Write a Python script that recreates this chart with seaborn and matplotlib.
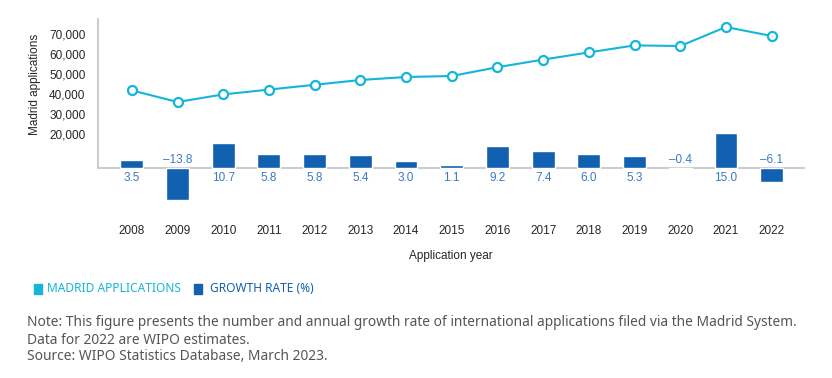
import matplotlib
matplotlib.use("Agg")
import matplotlib.pyplot as plt
import seaborn as sns
import pandas as pd

years = [str(y) for y in range(2008, 2023)]
applications = [41800, 36000, 39800, 42200, 44600, 47000, 48500, 49000,
                53400, 57200, 60800, 64300, 64000, 73500, 69000]
growth = [3.5, -13.8, 10.7, 5.8, 5.8, 5.4, 3.0, 1.1, 9.2, 7.4, 6.0, 5.3,
          -0.4, 15.0, -6.1]
ytick_vals = [20000, 30000, 40000, 50000, 60000, 70000]

line_col = "#14b5d9"
bar_col = "#1261b0"
lab_col = "#3b78c8"

df = pd.DataFrame({"year": years, "apps": applications, "growth": growth})

sns.set_style("white")
plt.rcParams["font.family"] = ["Liberation Sans", "DejaVu Sans"]

fig = plt.figure(figsize=(8.32, 3.78), dpi=100)
ax = fig.add_axes([98 / 832, 1 - 215 / 378, (805 - 98) / 832, (215 - 19) / 378])

# line: Madrid applications
sns.lineplot(data=df, x="year", y="apps", ax=ax, color=line_col, lw=1.5,
             marker="o", markersize=6.5, markerfacecolor="white",
             markeredgecolor=line_col, markeredgewidth=1.6, sort=False)
ax.set_ylim(-20500, 77500)
ax.set_yticks(ytick_vals)
ax.set_yticklabels([f"{v:,}" for v in ytick_vals], fontsize=8.5)
ax.tick_params(axis="y", length=0, pad=9)
ax.tick_params(axis="x", length=0, pad=7, labelsize=8.5)
ax.set_xlim(-0.74, 14.73)
ax.set_ylabel("")
ax.set_xlabel("")
for s in ["top", "right", "bottom"]:
    ax.spines[s].set_visible(False)
ax.spines["left"].set_bounds(3000, 77500)
ax.spines["left"].set_color("#cccccc")
ax.spines["left"].set_linewidth(1.5)

# bars: growth rate on twin axis
axb = ax.twinx()
sns.barplot(data=df, x="year", y="growth", ax=axb, color=bar_col,
            width=0.5, saturation=1)
axb.set_ylim(-20.2, 63.9)
axb.set_xlim(-0.74, 14.73)
axb.set_yticks([])
axb.set_ylabel("")
axb.set_xlabel("")
for s in axb.spines.values():
    s.set_visible(False)
axb.axhline(0, color="#cccccc", lw=1.5, zorder=0)

for i, g in enumerate(growth):
    txt = f"{g:.1f}" if g >= 0 else "\u2013" + f"{abs(g):.1f}"
    if g >= 0:
        axb.annotate(txt, (i, 0), xytext=(0, -7), textcoords="offset points",
                     ha="center", va="center", fontsize=8.5, color=lab_col)
    else:
        axb.annotate(txt, (i, 0), xytext=(0, 6), textcoords="offset points",
                     ha="center", va="center", fontsize=8.5, color=lab_col)

fig.text(35 / 832, 1 - 84 / 378, "Madrid applications", rotation=90,
         ha="center", va="center", fontsize=8.5)
fig.text(451 / 832, 1 - 256 / 378, "Application year", ha="center",
         va="center", fontsize=8.5)

# legend
nf = ["Noto Sans", "DejaVu Sans"]
fig.patches.append(plt.Rectangle((34 / 832, 1 - 294 / 378), 8 / 832, 10 / 378,
                                 transform=fig.transFigure, color=line_col))
fig.text(47 / 832, 1 - 289 / 378, "MADRID APPLICATIONS", va="center",
         fontsize=8.6, color=line_col, family=nf)
fig.patches.append(plt.Rectangle((194 / 832, 1 - 294 / 378), 8 / 832, 10 / 378,
                                 transform=fig.transFigure, color=bar_col))
fig.text(210 / 832, 1 - 289 / 378, "GROWTH RATE (%)", va="center",
         fontsize=8.6, color=bar_col, family=nf)

note_col = "#555555"
fig.text(27 / 832, 1 - 322 / 378,
         "Note: This figure presents the number and annual growth rate of "
         "international applications filed via the Madrid System.",
         va="center", fontsize=9.9, color=note_col, family=nf)
fig.text(27 / 832, 1 - 340 / 378, "Data for 2022 are WIPO estimates.",
         va="center", fontsize=9.9, color=note_col, family=nf)
fig.text(27 / 832, 1 - 357 / 378, "Source: WIPO Statistics Database, March 2023.",
         va="center", fontsize=9.9, color=note_col, family=nf)

fig.savefig("out.png", dpi=100)
